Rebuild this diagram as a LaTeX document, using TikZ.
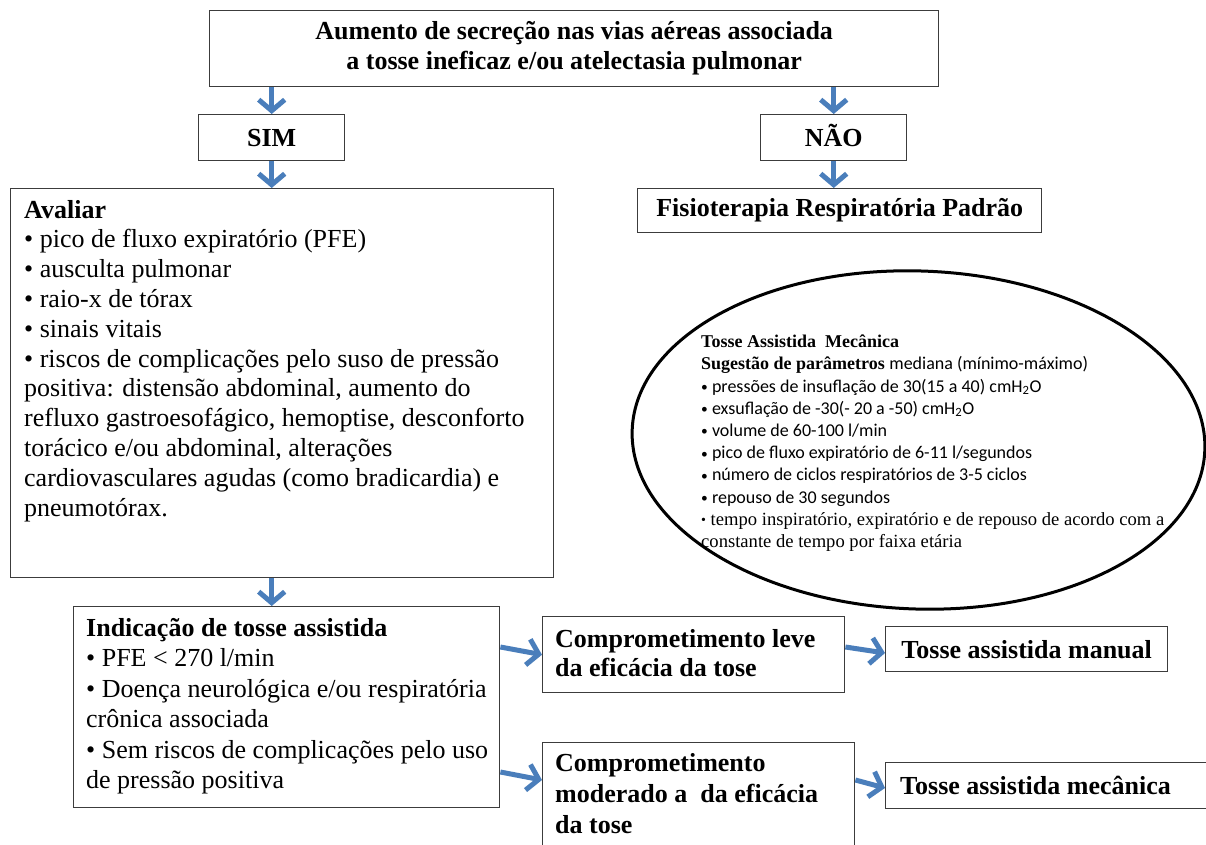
\documentclass[tikz,border=0pt]{standalone}
\usepackage{fontspec}
\usepackage{graphicx}
\setmainfont{Liberation Serif}
\newfontfamily\calfont{Carlito}
\usetikzlibrary{arrows.meta,shapes.geometric,calc}
\definecolor{arrowblue}{RGB}{74,126,187}
\definecolor{boxgray}{RGB}{60,60,60}
% small bullet used inside the ellipse
\newcommand{\ebul}{\raisebox{0.6pt}{\scalebox{0.75}{\textbullet}}\ }
\begin{document}
\begin{tikzpicture}[x=1pt,y=-1pt,
  box/.style={draw=boxgray, line width=1.4pt, inner sep=0pt, anchor=north west},
  bigb/.style={font=\fontsize{26}{30}\selectfont\bfseries, align=center},
  capline/.style={text height=17.2pt, text depth=0pt},
  txt/.style={anchor=north west, inner sep=0pt, align=left},
  flow/.style={draw=arrowblue, line width=5pt, -{Straight Barb[length=11pt,width=26pt]}},
]
\useasboundingbox (0,0) rectangle (1206,845);
\clip (0,0) rectangle (1206,845);

% ---- boxes ----
\node[box, bigb, minimum width=729, minimum height=76] (top) at (209,10)
  {Aumento de secreção nas vias aéreas associada\\ a tosse ineficaz e/ou atelectasia pulmonar};
\node[box, bigb, capline, minimum width=146, minimum height=46] (sim) at (198,114) {SIM};
\node[box, bigb, capline, minimum width=146, minimum height=46] (nao) at (760,114) {NÃO};
\node[box, bigb, minimum width=404, minimum height=44] (fisio) at (637,188) {Fisioterapia Respiratória Padrão};
\node[box, minimum width=543, minimum height=389] (ava) at (10,188) {};
\node[box, minimum width=426, minimum height=201] (ind) at (73,606) {};
\node[box, minimum width=302, minimum height=76] (leve) at (542,616) {};
\node[box, bigb, minimum width=282, minimum height=45] (man) at (885,626) {Tosse assistida manual};
\node[box, minimum width=312, minimum height=130] (mod) at (542,742) {};
\node[box, minimum width=340, minimum height=46] (mec) at (885,762) {};
\node[anchor=west, inner sep=0pt, font=\fontsize{26}{30}\selectfont\bfseries] (mect) at (900,785) {Tosse assistida mecânica};

% ---- box texts ----
\node[txt, font=\fontsize{26}{29.8}\selectfont] (avat) at (24,197) {\strut\textbf{Avaliar}\\
\textbullet\ pico de fluxo expiratório (PFE)\\
\textbullet\ ausculta pulmonar\\
\textbullet\ raio-x de tórax\\
\textbullet\ sinais vitais\\
\textbullet\ riscos de complicações pelo suso de pressão\\
positiva: distensão abdominal, aumento do\\
refluxo gastroesofágico, hemoptise, desconforto\\
torácico e/ou abdominal, alterações\\
cardiovasculares agudas (como bradicardia) e\\
pneumotórax.};

\node[txt, font=\fontsize{26}{30.4}\selectfont] (indt) at (86,615) {\strut\textbf{Indicação de tosse assistida}\\
\textbullet\ PFE < 270 l/min\\
\textbullet\ Doença neurológica e/ou respiratória\\
crônica associada\\
\textbullet\ Sem riscos de complicações pelo uso\\
de pressão positiva};

\node[txt, font=\fontsize{26}{29}\selectfont\bfseries] (levet) at (555,627) {\strut Comprometimento leve\\ da eficácia da tose};
\node[txt, font=\fontsize{26}{31}\selectfont\bfseries] (modt) at (555,750) {\strut Comprometimento\\ moderado a~ da eficácia\\ da tose};

% ---- ellipse with the suggested parameters ----
\node[draw=black, line width=3pt, ellipse, minimum width=573, minimum height=338, inner sep=0pt, rotate=-2] (ell) at (918.5,440) {};
\node[txt, font=\fontsize{18}{22.2}\selectfont] (ellt) at (701,332) {\strut\textbf{Tosse Assistida~ Mecânica}\\
\textbf{Sugestão de parâmetros} {\calfont mediana (mínimo-máximo)}\\
{\calfont\ebul pressões de insuflação de 30(15 a 40) cmH\textsubscript{2}O}\\
{\calfont\ebul exsuflação de -30(- 20 a -50) cmH\textsubscript{2}O}\\
{\calfont\ebul volume de 60-100 l/min}\\
{\calfont\ebul pico de fluxo expiratório de 6-11 l/segundos}\\
{\calfont\ebul número de ciclos respiratórios de 3-5 ciclos}\\
{\calfont\ebul repouso de 30 segundos}\\
{\fontsize{18.6}{22.2}\selectfont\ebul tempo inspiratório, expiratório e de repouso de acordo com a}\\
{\fontsize{18.6}{22.2}\selectfont constante de tempo por faixa etária}};

% ---- connectors ----
\draw[flow] (top.south -| sim.north) -- (sim.north);
\draw[flow] (top.south -| nao.north) -- (nao.north);
\draw[flow] (sim.south) -- (sim.south |- ava.north);
\draw[flow] (nao.south) -- (nao.south |- fisio.north);
\draw[flow] (ava.south -| sim.south) -- (ind.north -| sim.south);
\draw[flow] ($(ind.north east)+(0,41)$) -- (leve.west);
\draw[flow] ($(ind.north east)+(0,166)$) -- ($(mod.north west)+(0,38)$);
\draw[flow] ($(leve.north east)+(0,31)$) -- ($(man.north west)+(0,27)$);
\draw[flow] ($(mod.north east)+(0,38)$) -- ($(mec.north west)+(0,26)$);
\end{tikzpicture}
\end{document}
